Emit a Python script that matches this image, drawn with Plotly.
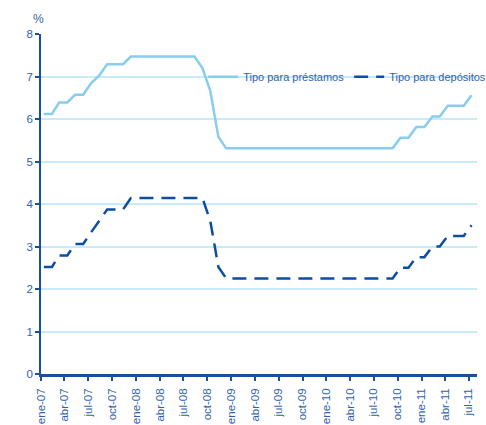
import pandas as pd
import plotly.graph_objects as go

# Monthly observations, ene-07 .. jul-11
start_month = "2007-01"
n_months = 55

prestamos = [6.12, 6.12, 6.39, 6.39, 6.57, 6.57, 6.84, 7.02, 7.29, 7.29, 7.29, 7.47,
             7.47, 7.47, 7.47, 7.47, 7.47, 7.47, 7.47, 7.47, 7.20, 6.66, 5.58, 5.31,
             5.31, 5.31, 5.31, 5.31, 5.31, 5.31, 5.31, 5.31, 5.31, 5.31, 5.31, 5.31,
             5.31, 5.31, 5.31, 5.31, 5.31, 5.31, 5.31, 5.31, 5.31, 5.56, 5.56, 5.81,
             5.81, 6.06, 6.06, 6.31, 6.31, 6.31, 6.56]

depositos = [2.52, 2.52, 2.79, 2.79, 3.06, 3.06, 3.33, 3.60, 3.87, 3.87, 3.87, 4.14,
             4.14, 4.14, 4.14, 4.14, 4.14, 4.14, 4.14, 4.14, 4.14, 3.60, 2.52, 2.25,
             2.25, 2.25, 2.25, 2.25, 2.25, 2.25, 2.25, 2.25, 2.25, 2.25, 2.25, 2.25,
             2.25, 2.25, 2.25, 2.25, 2.25, 2.25, 2.25, 2.25, 2.25, 2.50, 2.50, 2.75,
             2.75, 3.00, 3.00, 3.25, 3.25, 3.25, 3.50]

tick_dates = ["2007-01-01", "2007-04-01", "2007-07-01", "2007-10-01",
              "2008-01-01", "2008-04-01", "2008-07-01", "2008-10-01",
              "2009-01-01", "2009-04-01", "2009-07-01", "2009-10-01",
              "2010-01-01", "2010-04-01", "2010-07-01", "2010-10-01",
              "2011-01-01", "2011-04-01", "2011-07-01"]
tick_labels = ["ene-07", "abr-07", "jul-07", "oct-07",
               "ene-08", "abr-08", "jul-08", "oct-08",
               "ene-09", "abr-09", "jul-09", "oct-09",
               "ene-10", "abr-10", "jul-10", "oct-10",
               "ene-11", "abr-11", "jul-11"]

y_ticks = [0, 1, 2, 3, 4, 5, 6, 7, 8]

months = pd.date_range(start_month, periods=n_months, freq="MS") + pd.Timedelta(days=11)

TXT = "#2f62ad"
AXIS = "#1a4f9c"
LIGHT = "#86cdee"
DARK = "#0d4ea0"
GRID = "#c9eaf8"
FONT = "Liberation Sans, Arial, sans-serif"

fig = go.Figure()
fig.add_trace(go.Scatter(x=months, y=prestamos, mode="lines", name="Tipo para préstamos",
                         line=dict(color=LIGHT, width=2.5)))
fig.add_trace(go.Scatter(x=months, y=depositos, mode="lines", name="Tipo para depósitos",
                         line=dict(color=DARK, width=2.5, dash="14px,8px")))

fig.update_layout(
    width=516, height=425,
    margin=dict(l=41, r=39, t=34, b=51),
    paper_bgcolor="white", plot_bgcolor="white",
    font=dict(family=FONT, size=11, color=TXT),
    showlegend=True,
    legend=dict(orientation="h", x=0.372, xanchor="left",
                y=0.874, yanchor="middle",
                bgcolor="rgba(0,0,0,0)", font=dict(size=11, color=TXT),
                itemwidth=30, tracegroupgap=0),
    annotations=[dict(text="%", xref="paper", yref="paper", x=-0.005, y=1.0,
                      xanchor="center", yanchor="bottom", yshift=6, showarrow=False,
                      font=dict(size=12, color=TXT))],
)
fig.update_xaxes(
    type="date", range=["2007-01-01", "2011-08-02"], automargin=False,
    tickmode="array", tickvals=tick_dates, ticktext=tick_labels,
    tickangle=-90, ticks="outside", ticklen=4, tickcolor=AXIS, tickwidth=1.5,
    ticklabelstandoff=3,
    showline=True, linecolor=AXIS, linewidth=2.5, showgrid=False, zeroline=False,
    tickfont=dict(size=11.5, color=TXT),
)
fig.update_yaxes(
    range=[0, 8], tickmode="array", tickvals=y_ticks, automargin=False,
    ticks="outside", ticklen=4, tickcolor=AXIS, tickwidth=1.5,
    showline=True, linecolor=AXIS, linewidth=1.5,
    showgrid=True, gridcolor=GRID, gridwidth=1.5, zeroline=False,
    tickfont=dict(size=11.5, color=TXT),
)

fig.write_html(
    "out.html",
    config={"displayModeBar": False},
    post_script="document.body.style.margin='0';document.body.style.overflow='hidden';",
)
